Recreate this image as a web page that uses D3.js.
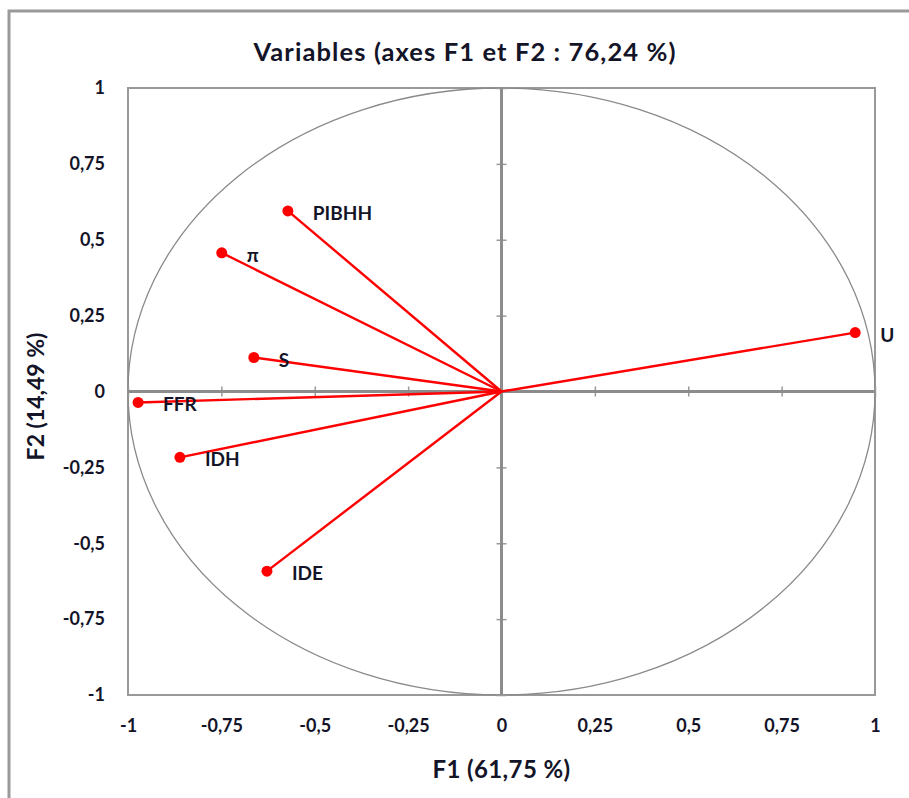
<!DOCTYPE html>
<html>
<head>
<meta charset="utf-8">
<script src="https://cdn.jsdelivr.net/npm/d3@7"></script>
<style>
  html, body { margin: 0; padding: 0; background: #fff; }
  svg { display: block; }
  text { font-family: Lato, "Open Sans", sans-serif; font-weight: 700; fill: #141428; }
</style>
</head>
<body>
<svg id="chart" width="909" height="798"></svg>
<script>
// Variable loadings on the first two factors
const variables = ["PIBHH", "π", "S", "FFR", "IDH", "IDE", "U"];
const f1Values  = [-0.572, -0.749, -0.663, -0.973, -0.861, -0.628, 0.947];
const f2Values  = [ 0.595,  0.457,  0.112, -0.036, -0.217, -0.592, 0.194];
const tickValues = [-1, -0.75, -0.5, -0.25, 0, 0.25, 0.5, 0.75, 1];

const titleText = "Variables (axes F1 et F2 : 76,24 %)";
const xTitle = "F1 (61,75 %)";
const yTitle = "F2 (14,49 %)";

const svg = d3.select("#chart");
const plotLeft = 128, plotRight = 875, plotTop = 88, plotBottom = 695;

const x = d3.scaleLinear().domain([-1, 1]).range([plotLeft, plotRight]);
const y = d3.scaleLinear().domain([-1, 1]).range([plotBottom, plotTop]);
const fmt = v => String(v).replace(".", ",");

// outer chart frame
svg.append("path")
  .attr("d", "M9,800 L9,11 L912,11")
  .attr("fill", "none").attr("stroke", "#9a9a9a").attr("stroke-width", 3);

// title
svg.append("text")
  .attr("x", 465).attr("y", 61)
  .attr("text-anchor", "middle")
  .style("font-size", "25.5px")
  .style("letter-spacing", "1.1px")
  .text(titleText);

// plot border
svg.append("rect")
  .attr("x", plotLeft).attr("y", plotTop)
  .attr("width", plotRight - plotLeft).attr("height", plotBottom - plotTop)
  .attr("fill", "none").attr("stroke", "#999").attr("stroke-width", 2);

// correlation circle
svg.append("ellipse")
  .attr("cx", x(0)).attr("cy", y(0))
  .attr("rx", x(1) - x(0)).attr("ry", y(0) - y(1))
  .attr("fill", "none").attr("stroke", "#8a8a8a").attr("stroke-width", 1.3);

// zero axes with crossing tick marks
const xZero = svg.append("g")
  .attr("transform", `translate(0,${y(0) - 5})`)
  .call(d3.axisBottom(x).tickValues(tickValues).tickSize(10).tickFormat(""));
const yZero = svg.append("g")
  .attr("transform", `translate(${x(0) + 5},0)`)
  .call(d3.axisLeft(y).tickValues(tickValues).tickSize(10).tickFormat(""));
[xZero, yZero].forEach(g => {
  g.select(".domain").remove();
  g.selectAll(".tick line").attr("stroke", "#999").attr("stroke-width", 1.5);
});
svg.append("line")
  .attr("x1", plotLeft).attr("x2", plotRight).attr("y1", y(0)).attr("y2", y(0))
  .attr("stroke", "#8c8c8c").attr("stroke-width", 3);
svg.append("line")
  .attr("x1", x(0)).attr("x2", x(0)).attr("y1", plotTop).attr("y2", plotBottom)
  .attr("stroke", "#8c8c8c").attr("stroke-width", 3);

// tick labels along the bottom and left edges
const xLab = svg.append("g")
  .attr("transform", `translate(0,${plotBottom + 21})`)
  .call(d3.axisBottom(x).tickValues(tickValues).tickSize(0).tickFormat(fmt));
const yLab = svg.append("g")
  .attr("transform", `translate(${plotLeft - 20},0)`)
  .call(d3.axisLeft(y).tickValues(tickValues).tickSize(0).tickFormat(fmt));
[xLab, yLab].forEach(g => {
  g.select(".domain").remove();
  g.selectAll("text")
    .style("font-family", "Lato, sans-serif")
    .style("font-weight", 700)
    .style("font-size", "18px")
    .attr("fill", "#141428");
});

// axis titles
svg.append("text")
  .attr("x", x(0)).attr("y", 778)
  .attr("text-anchor", "middle")
  .style("font-size", "24px")
  .style("letter-spacing", "0.4px")
  .text(xTitle);
svg.append("text")
  .attr("transform", `translate(44,${y(0) + 5}) rotate(-90)`)
  .attr("text-anchor", "middle")
  .style("font-size", "23px")
  .text(yTitle);

// vectors and points
const data = variables.map((name, i) => ({ name, f1: f1Values[i], f2: f2Values[i] }));
svg.append("g").selectAll("line").data(data).join("line")
  .attr("x1", x(0)).attr("y1", y(0))
  .attr("x2", d => x(d.f1)).attr("y2", d => y(d.f2))
  .attr("stroke", "#ff0000").attr("stroke-width", 2.4);
svg.append("g").selectAll("circle").data(data).join("circle")
  .attr("cx", d => x(d.f1)).attr("cy", d => y(d.f2))
  .attr("r", 5.5).attr("fill", "#ff0000");
svg.append("g").selectAll("text").data(data).join("text")
  .attr("x", d => x(d.f1) + 25).attr("y", d => y(d.f2) + 9)
  .style("font-size", "19px")
  .text(d => d.name);
</script>
</body>
</html>
